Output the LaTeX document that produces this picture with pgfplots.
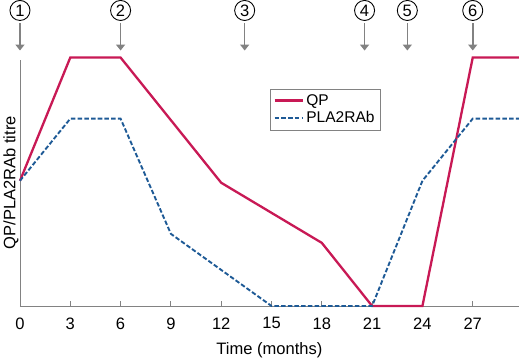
\documentclass[border=0pt]{standalone}
\usepackage{pgfplots}
\pgfplotsset{compat=1.18}
\usepackage{fontspec}
\setmainfont{Liberation Sans}
\usetikzlibrary{arrows.meta}
\definecolor{qpcol}{RGB}{200,25,85}
\definecolor{plcol}{RGB}{30,90,150}
\definecolor{axgray}{RGB}{130,130,130}
\begin{document}
\begin{tikzpicture}
\begin{axis}[
  scale only axis,
  width=498pt, height=246pt,
  xmin=0, xmax=29.75, ymin=0, ymax=246,
  axis x line=bottom, axis y line=left,
  axis line style={-, axgray, line width=0.9pt},
  xtick={0,3,...,27}, ytick=\empty,
  tick align=inside,
  major tick length=5pt,
  tick style={axgray, line width=0.9pt},
  xticklabel style={font=\fontsize{16.5}{18}\selectfont, yshift=-8pt},
  /pgf/number format/assume math mode=true,
  xlabel={Time (months)},
  xlabel style={font=\fontsize{16.5}{18}\selectfont, yshift=-6pt},
  ylabel={QP/PLA2RAb titre},
  ylabel style={font=\fontsize{16.5}{18}\selectfont, yshift=-2pt},
  clip=false,
  legend style={at={(axis cs:14.9,217)}, anchor=north west,
    draw=axgray, font=\fontsize{15.5}{17}\selectfont,
    inner sep=3.5pt, row sep=1pt},
  legend image code/.code={\draw[#1] (0cm,0cm) -- (1.0cm,0cm);},
  legend cell align=left,
]
\addplot[qpcol, line width=2.3pt] coordinates {
  (0,125) (3,248) (6,248) (12,123) (18,63) (21,0) (24,0) (27,248) (29.75,248)};
\addlegendentry{QP}
\addplot[plcol, line width=1.9pt, dash pattern=on 4.5pt off 2.2pt] coordinates {
  (0,125) (3,187) (6,187) (9,72) (15,0) (21,0) (24,125) (27,187) (29.75,187)};
\addlegendentry{PLA2RAb}
\foreach \xx/\nn in {0/1, 6/2, 13.4/3, 20.55/4, 23.1/5, 27/6} {
  \edef\tmp{\noexpand\draw[axgray, line width=1.6pt, -{Triangle[length=6pt,width=9pt]}] (axis cs:\xx,282) -- (axis cs:\xx,255);
  \noexpand\node[circle, draw=black, line width=0.9pt, inner sep=0pt, minimum size=20pt, font=\noexpand\fontsize{16.5}{17}\noexpand\selectfont] at (axis cs:\xx,295) {\nn};}
  \tmp
}
\end{axis}
\end{tikzpicture}
\end{document}
